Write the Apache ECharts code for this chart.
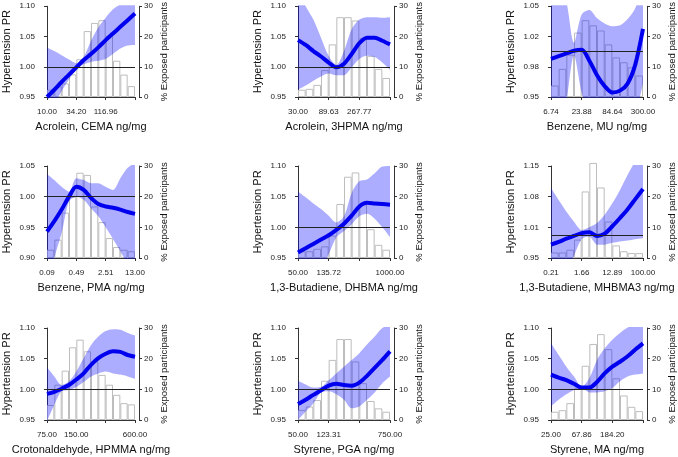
<!DOCTYPE html>
<html><head><meta charset="utf-8">
<script src="https://cdn.jsdelivr.net/npm/echarts@6/dist/echarts.min.js"></script>
<style>html,body{margin:0;padding:0;background:#fff}#c{width:678px;height:457px}</style>
</head><body><div id="c"></div>
<script>
// ---- titles and tick labels ----
const xTitles = ['Acrolein, CEMA ng/mg','Acrolein, 3HPMA ng/mg','Benzene, MU ng/mg',
  'Benzene, PMA ng/mg','1,3-Butadiene, DHBMA ng/mg','1,3-Butadiene, MHBMA3 ng/mg',
  'Crotonaldehyde, HPMMA ng/mg','Styrene, PGA ng/mg','Styrene, MA ng/mg'];
const xTick1 = ['10.00','34.20','116.96',''];
const xTick2 = ['30.00','89.63','267.77',''];
const xTick3 = ['6.74','23.88','84.64','300.00'];
const xTick4 = ['0.09','0.49','2.51','13.00'];
const xTick5 = ['50.00','135.72','','1000.00'];
const xTick6 = ['0.21','1.66','12.89','100.00'];
const xTick7 = ['75.00','150.00','','600.00'];
const xTick8 = ['50.00','123.31','','750.00'];
const xTick9 = ['25.00','67.86','184.20',''];
const yTickA = ['0.95','1.00','1.05','1.10'];
const yTick3 = ['0.95','0.98','1.02','1.05'];
const yTick4 = ['0.90','0.95','1.00','1.05'];
const yTick6 = ['0.95','1.01','1.08','1.15'];
const yRanges = [[0.95,1.10],[0.95,1.10],[0.95,1.05],[0.90,1.05],[0.95,1.10],[0.95,1.15],[0.95,1.10],[0.95,1.10],[0.95,1.10]];
const refLine = [1.003,1.003,1.002,1.003,1.003,1.005,1.003,1.003,1.003];
const pctTicks = [0,30];

// ---- histograms (% exposed participants, 12 bins) ----
const hist1 = [2.4,3.5,4.5,7.5,12.5,21.8,24.5,25.4,20.2,12.0,7.4,3.6];
const hist2 = [2.4,2.7,4.0,8.9,17.4,26.4,26.4,25.3,19.5,13.6,9.3,6.3];
const hist3 = [3.8,9.3,14.0,21.3,25.4,23.7,22.0,17.4,13.1,11.5,9.8,7.1];
const hist4 = [2.7,6.0,14.8,20.0,27.8,27.1,16.8,11.7,6.5,3.6,2.7,2.2];
const hist5 = [2.2,2.2,3.0,3.8,7.3,17.6,26.5,27.9,17.5,9.4,4.3,2.7];
const hist6 = [1.8,1.8,2.7,6.0,21.7,31.0,23.0,11.9,4.1,2.2,1.6,1.6];
const hist7 = [4.9,11.5,16.1,23.7,26.2,22.4,19.1,14.7,11.5,8.2,5.5,5.1];
const hist8 = [3.3,4.4,6.5,12.8,19.6,26.4,26.4,19.1,12.0,6.2,3.8,2.7];
const hist9 = [2.7,3.2,5.5,10.4,17.7,24.8,28.0,23.1,13.6,8.0,4.3,2.9];

// ---- PR curves and confidence bands (13 points across each axis) ----
const pr1 = [0.950,0.962,0.975,0.987,0.999,1.011,1.021,1.032,1.044,1.055,1.066,1.077,1.088];
const hi1 = [1.032,1.026,1.019,1.012,1.006,1.016,1.043,1.065,1.081,1.095,1.103,1.106,1.108];
const lo1 = [0.870,0.935,0.960,0.979,0.996,1.004,1.008,1.010,1.013,1.021,1.030,1.035,1.036];
const pr2 = [1.044,1.036,1.026,1.017,1.007,0.999,1.005,1.021,1.039,1.048,1.048,1.043,1.037];
const hi2 = [1.125,1.100,1.078,1.048,1.018,1.003,1.026,1.062,1.078,1.082,1.082,1.081,1.082];
const lo2 = [0.962,0.969,0.977,0.984,0.989,0.986,0.986,0.999,1.013,1.018,1.016,1.007,0.995];
const pr3 = [0.992,0.995,0.998,1.001,1.002,0.990,0.974,0.962,0.955,0.957,0.965,0.986,1.025];
const hi3 = [1.090,1.075,1.055,1.010,1.041,1.046,1.037,1.031,1.028,1.029,1.036,1.048,1.080];
const lo3 = [0.890,0.910,0.945,0.9955,0.955,0.930,0.910,0.900,0.895,0.900,0.910,0.930,0.965];
const pr4 = [0.943,0.960,0.979,1.000,1.016,1.011,0.998,0.988,0.984,0.982,0.979,0.975,0.972];
const hi4 = [1.037,1.027,1.016,1.008,1.030,1.027,1.022,1.022,1.016,1.011,1.030,1.047,1.055];
const lo4 = [0.850,0.900,0.941,0.992,1.000,0.995,0.981,0.968,0.950,0.931,0.911,0.890,0.870];
const pr5 = [0.959,0.966,0.973,0.980,0.987,0.996,1.006,1.019,1.034,1.040,1.039,1.038,1.037];
const hi5 = [1.058,1.049,1.039,1.030,1.019,1.008,1.018,1.056,1.075,1.078,1.088,1.099,1.100];
const lo5 = [0.860,0.883,0.906,0.930,0.956,0.984,0.994,1.005,1.018,1.022,1.014,1.000,0.984];
const pr6 = [0.979,0.985,0.992,0.998,1.004,1.006,0.998,1.003,1.019,1.037,1.056,1.078,1.100];
const hi6 = [1.102,1.076,1.051,1.029,1.011,1.017,1.026,1.044,1.069,1.098,1.131,1.160,1.180];
const lo6 = [0.850,0.880,0.915,0.955,0.991,0.996,0.979,0.979,0.983,0.986,0.988,0.991,0.993];
const pr7 = [0.9925,0.996,1.001,1.007,1.016,1.026,1.040,1.051,1.058,1.062,1.061,1.056,1.053];
const hi7 = [1.036,1.021,1.007,1.013,1.029,1.051,1.072,1.086,1.095,1.098,1.097,1.092,1.088];
const lo7 = [0.948,0.975,0.997,0.999,1.004,1.012,1.021,1.026,1.029,1.026,1.024,1.021,1.017];
const pr8 = [0.976,0.983,0.991,0.9985,1.006,1.009,1.007,1.006,1.011,1.022,1.035,1.048,1.062];
const hi8 = [1.014,1.008,1.003,1.004,1.015,1.026,1.037,1.048,1.059,1.073,1.086,1.100,1.105];
const lo8 = [0.950,0.964,0.977,0.995,0.997,0.992,0.983,0.969,0.972,0.983,0.995,1.010,1.021];
const pr9 = [1.024,1.019,1.015,1.009,1.003,1.003,1.012,1.026,1.037,1.045,1.054,1.065,1.075];
const hi9 = [1.075,1.056,1.037,1.021,1.0045,1.018,1.048,1.067,1.081,1.092,1.101,1.105,1.108];
const lo9 = [0.972,0.983,0.992,0.999,1.002,0.995,0.995,0.997,1.002,1.013,1.021,1.024,1.026];

const xTicks = [xTick1,xTick2,xTick3,xTick4,xTick5,xTick6,xTick7,xTick8,xTick9];
const yTicks = [yTickA,yTickA,yTick3,yTick4,yTickA,yTick6,yTickA,yTickA,yTickA];
const hists = [hist1,hist2,hist3,hist4,hist5,hist6,hist7,hist8,hist9];
const prs = [pr1,pr2,pr3,pr4,pr5,pr6,pr7,pr8,pr9];
const his = [hi1,hi2,hi3,hi4,hi5,hi6,hi7,hi8,hi9];
const los = [lo1,lo2,lo3,lo4,lo5,lo6,lo7,lo8,lo9];

// ---- layout ----
const gridLeft = [43, 298, 551];
const gridTop = [5, 166, 328];
const font = '"Liberation Sans", Arial, Helvetica, sans-serif';
const axisCol = '#333';
const binNames = hist1.map((_, i) => 'b' + i);
const ptNames = pr1.map((_, i) => 'p' + i);

const grids = [], xAxes = [], yAxes = [], series = [];
for (let p = 0; p < 9; p++) {
  const r = Math.floor(p / 3), c = p % 3;
  grids.push({left: gridLeft[c], top: gridTop[r], width: 92, height: 92});
  const xi = xAxes.length, yi = yAxes.length;
  xAxes.push({type: 'value', gridIndex: p, min: 0, max: 3, interval: 1, offset: 5,
    axisLine: {show: true, lineStyle: {color: axisCol, width: 1}},
    axisTick: {show: true, length: 3, lineStyle: {color: axisCol}},
    splitLine: {show: false},
    axisLabel: {fontSize: 8, fontFamily: font, color: '#222', margin: 6,
      formatter: v => xTicks[p][Math.round(v)] || ''},
    name: xTitles[p], nameLocation: 'middle', nameGap: 19, nameMoveOverlap: false,
    nameTextStyle: {fontSize: 11, fontFamily: font, color: '#111'}});
  xAxes.push({type: 'category', gridIndex: p, show: false, data: binNames, boundaryGap: true});
  xAxes.push({type: 'category', gridIndex: p, show: false, data: ptNames, boundaryGap: false});
  yAxes.push({type: 'value', gridIndex: p, min: 0, max: 3, interval: 1, position: 'left', offset: 4,
    axisLine: {show: true, lineStyle: {color: axisCol, width: 1}},
    axisTick: {show: true, length: 3, lineStyle: {color: axisCol}},
    splitLine: {show: false},
    axisLabel: {fontSize: 8, fontFamily: font, color: '#222', margin: 8,
      formatter: v => yTicks[p][Math.round(v)] || ''},
    name: 'Hypertension PR', nameLocation: 'middle', nameGap: 31, nameMoveOverlap: false,
    nameTextStyle: {fontSize: 11, fontFamily: font, color: '#111'}});
  yAxes.push({type: 'value', gridIndex: p, min: pctTicks[0], max: pctTicks[1], interval: 10, position: 'right', offset: 4,
    axisLine: {show: true, lineStyle: {color: axisCol, width: 1}},
    axisTick: {show: true, length: 3, lineStyle: {color: axisCol}},
    splitLine: {show: false},
    axisLabel: {fontSize: 8, fontFamily: font, color: '#222', margin: 5},
    name: '% Exposed participants', nameLocation: 'middle', nameGap: 20, nameMoveOverlap: false,
    nameTextStyle: {fontSize: 9.5, fontFamily: font, color: '#111'}});
  yAxes.push({type: 'value', gridIndex: p, min: yRanges[p][0], max: yRanges[p][1], show: false});

  series.push({type: 'bar', xAxisIndex: xi + 1, yAxisIndex: yi + 1, data: hists[p],
    barWidth: '100%', barGap: '0%', clip: false, z: 1, silent: true,
    itemStyle: {color: '#ffffff', borderColor: '#bdbdbd', borderWidth: 1}});
  series.push({type: 'line', xAxisIndex: xi + 2, yAxisIndex: yi + 2, data: los[p],
    stack: 'band' + p, symbol: 'none', smooth: 0.3, z: 3, silent: true,
    lineStyle: {opacity: 0},
    markLine: {silent: true, symbol: 'none', label: {show: false},
      lineStyle: {color: '#222', width: 1, type: 'solid'},
      data: [{yAxis: refLine[p]}]}});
  series.push({type: 'line', xAxisIndex: xi + 2, yAxisIndex: yi + 2,
    data: his[p].map((h, i) => +(h - los[p][i]).toFixed(4)),
    stack: 'band' + p, symbol: 'none', smooth: 0.3, z: 2, silent: true,
    lineStyle: {opacity: 0}, areaStyle: {color: 'rgba(0,0,255,0.32)', opacity: 1}});
  series.push({type: 'line', xAxisIndex: xi + 2, yAxisIndex: yi + 2, data: prs[p],
    symbol: 'none', smooth: 0.3, z: 4, silent: true,
    lineStyle: {color: '#0000ee', width: 4}});
}

const chart = echarts.init(document.getElementById('c'));
chart.setOption({animation: false, backgroundColor: '#fff', grid: grids, xAxis: xAxes, yAxis: yAxes, series: series});
</script>
</body></html>
